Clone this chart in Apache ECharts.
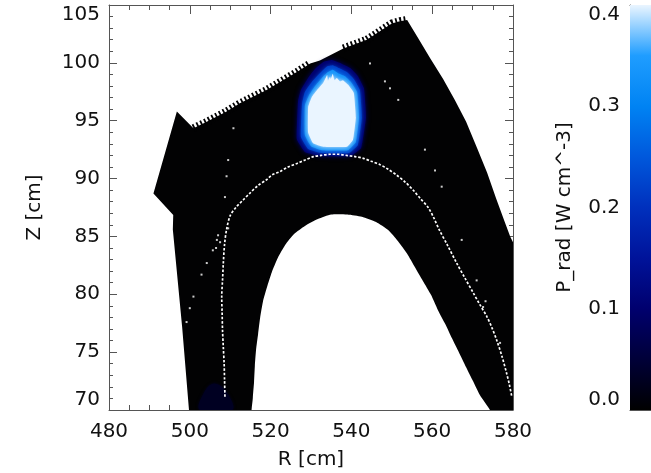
<!DOCTYPE html>
<html>
<head>
<meta charset="utf-8">
<script src="https://cdn.jsdelivr.net/npm/echarts@6/dist/echarts.min.js"></script>
<style>
  html, body { margin: 0; padding: 0; background: #fff; }
  #chart { width: 651px; height: 473px; }
</style>
</head>
<body>
<div id="chart"></div>
<script>
// ---- axes -------------------------------------------------------------
const rRange = [480, 580];
const zRange = [70, 105];
const pRange = [0.0, 0.4];

// ---- computational grid outline in the poloidal plane (R, Z in cm) -----
const meshR = [500.7, 499.8, 498.1, 495.8, 495.9, 491.0, 496.8, 500.9, 504.2, 509.1, 512.4, 519.0, 526.5, 529.8,
               532.2, 538.0, 543.8, 550.0, 552.0, 553.8, 556.5, 559.5, 562.7, 565.6, 568.4, 571.1, 573.6,
               575.8, 577.8, 579.3, 580.0, 582.0, 582.0];
const meshZ = [66.0, 70.0, 77.2, 85.6, 86.85, 88.7, 95.8, 94.35, 94.9, 95.8, 96.5, 97.65, 99.2, 99.95,
               100.2, 101.25, 102.0, 103.4, 103.6, 103.7, 102.15, 100.4, 98.6, 96.8, 94.9, 92.65, 90.5,
               88.3, 86.4, 85.0, 84.5, 83.0, 66.0];

// region not covered by the grid (inside the core boundary)
const holeR = [515.6, 515.6, 515.9, 516.1, 516.4, 516.9, 517.4, 518.1, 519.1, 520.3, 521.8, 523.6, 525.8,
               528.5, 531.7, 535.0, 539.0, 542.6, 546.1, 549.1, 551.5, 553.8, 555.7, 557.7, 559.7,
               561.4, 563.2, 564.9, 566.6, 568.4, 570.1, 571.8, 574.3, 575.3, 545.0];
const holeZ = [69.05, 71.05, 72.4, 73.8, 75.2, 76.55, 77.95, 79.35, 80.6, 81.9, 83.15, 84.25, 85.2,
               85.9, 86.5, 86.9, 86.9, 86.7, 86.25, 85.55, 84.6, 83.5, 82.35, 81.15, 79.95,
               78.65, 77.45, 76.2, 75.0, 73.7, 72.5, 71.3, 70.0, 69.05, 62.0];

// ---- radiated power density: iso-level outlines --------------------------
const pLevels = [0.03, 0.10, 0.22, 0.33, 0.50];
const pLevelR = [
  [502.5, 503.5, 506.0, 509.0, 510.5],
  [526.8, 526.5, 528.5, 532.2, 539.7, 542.4, 543.6, 543.1, 541.6, 539.7, 537.2, 535.2, 533.2, 531.2, 529.3, 527.5],
  [527.8, 527.5, 529.3, 532.5, 539.4, 541.6, 542.6, 542.1, 540.6, 538.9, 536.9, 535.4, 534.0, 532.2, 530.2, 528.5],
  [528.5, 528.5, 530.0, 532.7, 539.2, 541.1, 541.9, 541.4, 539.9, 538.4, 536.7, 535.4, 534.2, 532.7, 531.0, 529.5],
  [529.3, 529.3, 530.5, 533.0, 538.9, 540.4, 541.1, 540.6, 539.2, 537.9, 537.2, 536.4, 535.8, 535.4, 534.9,
   534.7, 534.2, 534.0, 533.0, 531.5, 530.2]
];
const pLevelZ = [
  [70.0, 71.5, 72.3, 71.6, 70.0],
  [96.7, 93.4, 92.3, 91.95, 91.95, 92.65, 95.3, 97.8, 98.85, 99.55, 99.99, 100.25, 100.1, 99.55, 98.7, 97.65],
  [96.5, 93.6, 92.55, 92.2, 92.2, 92.9, 95.3, 97.65, 98.6, 99.2, 99.55, 99.8, 99.7, 99.1, 98.35, 97.5],
  [96.35, 93.75, 92.8, 92.45, 92.45, 93.15, 95.3, 97.5, 98.35, 98.85, 99.1, 99.4, 99.2, 98.7, 98.0, 97.2],
  [96.2, 93.95, 93.05, 92.75, 92.75, 93.35, 95.3, 97.4, 98.1, 98.5, 98.4, 98.7, 98.5, 99.05, 98.6,
   98.8, 98.45, 98.95, 98.25, 97.65, 97.05]
];

// ---- separatrix trace and stray field-line points -----------------------
const sepR = [508.7, 508.6, 508.5, 508.3, 508.1, 508.0, 507.9, 508.1, 508.3, 508.6, 509.1, 510.0, 511.4, 513.2,
              514.9, 516.9, 519.0, 520.3, 522.3, 524.3, 526.5, 528.5, 530.6, 532.5, 534.7, 536.7, 538.8, 540.9,
              542.95, 544.9, 547.1, 549.1, 551.2, 553.3, 555.3, 557.0, 559.0, 560.4, 561.7, 563.7, 566.05, 568.1,
              570.2, 571.8, 573.5, 574.8, 575.95, 577.3, 578.4, 579.1, 579.7];
const sepZ = [71.15, 72.6, 74.0, 75.4, 76.9, 78.4, 79.8, 81.2, 82.7, 84.3, 85.6, 86.8, 87.5, 88.15,
              88.75, 89.4, 89.9, 90.3, 90.6, 91.0, 91.3, 91.6, 91.9, 92.0, 92.1, 92.1, 92.0, 91.9,
              91.75, 91.5, 91.2, 90.8, 90.3, 89.7, 89.0, 88.3, 87.5, 86.6, 85.6, 84.3, 82.7, 81.4,
              80.1, 79.1, 78.1, 77.1, 76.05, 74.6, 73.2, 72.2, 71.15];
const strayR = [510.8, 509.5, 509.1, 508.7, 506.7, 505.7, 504.2, 502.9, 500.9, 500.0, 499.2, 507.0, 507.5,
                509.5, 506.5, 544.6, 548.3, 549.55, 551.6, 558.2, 560.7, 562.35, 567.3, 571.0, 576.8, 572.6, 573.2];
const strayZ = [94.35, 91.6, 90.2, 88.4, 84.7, 83.8, 82.7, 81.7, 79.8, 78.8, 77.6, 85.1, 84.5,
                85.7, 84.0, 99.95, 98.4, 97.8, 96.8, 92.5, 90.7, 89.3, 84.7, 81.2, 75.8, 78.9, 79.4];

// colour table for P_rad, evenly spaced over pRange
const pColors = ['#000000', '#000038', '#00006e', '#00139a', '#0030bd', '#0058dc', '#0083f3', '#1f9dff', '#eaf5ff'];

// ---------------------------------------------------------------------------
const ink = '#111';
const frame = '#555';
const font = 'DejaVu Sans';
const gridBlack = '#020203';

function axisBase(extra) {
  return Object.assign({
    type: 'value',
    axisLine: { show: true, onZero: false, lineStyle: { color: frame, width: 1 } },
    axisTick: { show: true, inside: true, length: 8, lineStyle: { color: frame, width: 1 } },
    minorTick: { show: true, splitNumber: 5, length: 4, lineStyle: { color: frame, width: 1 } },
    splitLine: { show: false },
    axisLabel: { show: true, color: ink, fontSize: 20, fontFamily: font },
    nameTextStyle: { color: ink, fontSize: 20, fontFamily: font }
  }, extra);
}

const chart = echarts.init(document.getElementById('chart'), null, { renderer: 'canvas' });

const option = {
  animation: false,
  backgroundColor: '#fff',
  grid: [
    { left: 109, top: 5, width: 404, height: 405, outerBoundsMode: 'none' },
    { left: 630, top: 5, width: 21, height: 405, outerBoundsMode: 'none' }
  ],
  visualMap: {
    type: 'continuous', show: false, seriesIndex: 1, dimension: 1,
    min: pRange[0], max: pRange[1], inRange: { color: pColors }
  },
  xAxis: [
    axisBase({ gridIndex: 0, position: 'bottom', min: rRange[0], max: rRange[1], interval: 20,
      axisTick: { show: true, inside: true, length: 9, lineStyle: { color: frame } },
      minorTick: { show: true, splitNumber: 4, length: 5, lineStyle: { color: frame } },
      axisLabel: { color: ink, fontSize: 20, fontFamily: font, margin: 12 },
      name: 'R [cm]', nameLocation: 'middle', nameGap: 40 }),
    axisBase({ gridIndex: 0, position: 'top', min: rRange[0], max: rRange[1], interval: 20,
      axisTick: { show: true, inside: true, length: 9, lineStyle: { color: frame } },
      minorTick: { show: true, splitNumber: 4, length: 5, lineStyle: { color: frame } },
      axisLabel: { show: false } }),
    axisBase({ gridIndex: 1, position: 'bottom', min: 0, max: 1,
      axisTick: { show: false }, minorTick: { show: false }, axisLabel: { show: false } }),
    axisBase({ gridIndex: 1, position: 'top', min: 0, max: 1,
      axisTick: { show: false }, minorTick: { show: false }, axisLabel: { show: false } })
  ],
  yAxis: [
    axisBase({ gridIndex: 0, position: 'left', min: zRange[0], max: zRange[1], interval: 5,
      axisLabel: { color: ink, fontSize: 20, fontFamily: font, margin: 9,
        verticalAlignMinLabel: 'bottom', verticalAlignMaxLabel: 'top' },
      name: 'Z [cm]', nameLocation: 'middle', nameGap: 64, nameRotate: 90 }),
    axisBase({ gridIndex: 0, position: 'right', min: zRange[0], max: zRange[1], interval: 5,
      axisLabel: { show: false } }),
    axisBase({ gridIndex: 1, position: 'left', min: pRange[0], max: pRange[1], interval: 0.1,
      minorTick: { show: true, splitNumber: 10, length: 4, lineStyle: { color: frame } },
      axisLabel: { color: ink, fontSize: 20, fontFamily: font, margin: 10,
        formatter: v => v.toFixed(1),
        verticalAlignMinLabel: 'bottom', verticalAlignMaxLabel: 'top' },
      name: 'P_rad [W cm^-3]', nameLocation: 'middle', nameGap: 55, nameRotate: 90 })
  ],
  series: [
    {
      // grid footprint: black cells, saw-toothed outer flux surface, empty core
      type: 'custom', xAxisIndex: 0, yAxisIndex: 0, clip: true, silent: true,
      data: [[0]],
      renderItem(params, api) {
        const outline = meshR.map((r, i) => api.coord([r, meshZ[i]]));
        const core = holeR.map((r, i) => api.coord([r, holeZ[i]]));
        const teeth = [outline.slice(7, 14), outline.slice(15, 20)];
        const children = [
          { type: 'polygon', shape: { points: outline }, style: { fill: gridBlack } }
        ];
        teeth.forEach(pts => children.push({
          type: 'polyline', shape: { points: pts },
          style: { stroke: gridBlack, lineWidth: 8, lineDash: [1.8, 2.4], lineCap: 'butt', fill: null }
        }));
        children.push({ type: 'polygon', shape: { points: core, smooth: 0.2 }, style: { fill: '#ffffff' } });
        return { type: 'group', children };
      }
    },
    {
      // radiated power density, one filled outline per level
      type: 'custom', xAxisIndex: 0, yAxisIndex: 0, clip: true, silent: true,
      dimensions: ['level', 'P'],
      encode: { x: -1, y: -1 },
      data: pLevels.map((p, i) => [i, p]),
      renderItem(params, api) {
        const k = api.value(0);
        const pts = pLevelR[k].map((r, i) => api.coord([r, pLevelZ[k][i]]));
        const c = api.visual('color');
        return {
          type: 'polygon', shape: { points: pts, smooth: k === 0 ? 0.4 : 0.1 },
          style: { fill: c, shadowColor: c, shadowBlur: k === 0 ? 3 : 5 }
        };
      }
    },
    {
      type: 'line', xAxisIndex: 0, yAxisIndex: 0, silent: true,
      data: sepR.map((r, i) => [r, sepZ[i]]),
      showSymbol: false, smooth: 0.3,
      lineStyle: { color: '#ffffff', width: 1.7, type: [2.5, 1.8] }
    },
    {
      type: 'scatter', xAxisIndex: 0, yAxisIndex: 0, silent: true,
      data: strayR.map((r, i) => [r, strayZ[i]]),
      symbol: 'rect', symbolSize: 2,
      itemStyle: { color: '#ffffff' }
    },
    {
      // colour bar
      type: 'custom', xAxisIndex: 2, yAxisIndex: 2, clip: true, silent: true,
      data: [[0]],
      renderItem(params, api) {
        const lo = api.coord([0, pRange[0]]);
        const hi = api.coord([1, pRange[1]]);
        const stops = pColors.map((c, i) => ({ offset: i / (pColors.length - 1), color: c }));
        return {
          type: 'rect',
          shape: { x: lo[0], y: hi[1], width: hi[0] - lo[0], height: lo[1] - hi[1] },
          style: { fill: new echarts.graphic.LinearGradient(0, 1, 0, 0, stops) }
        };
      }
    }
  ]
};

chart.setOption(option);
</script>
</body>
</html>
